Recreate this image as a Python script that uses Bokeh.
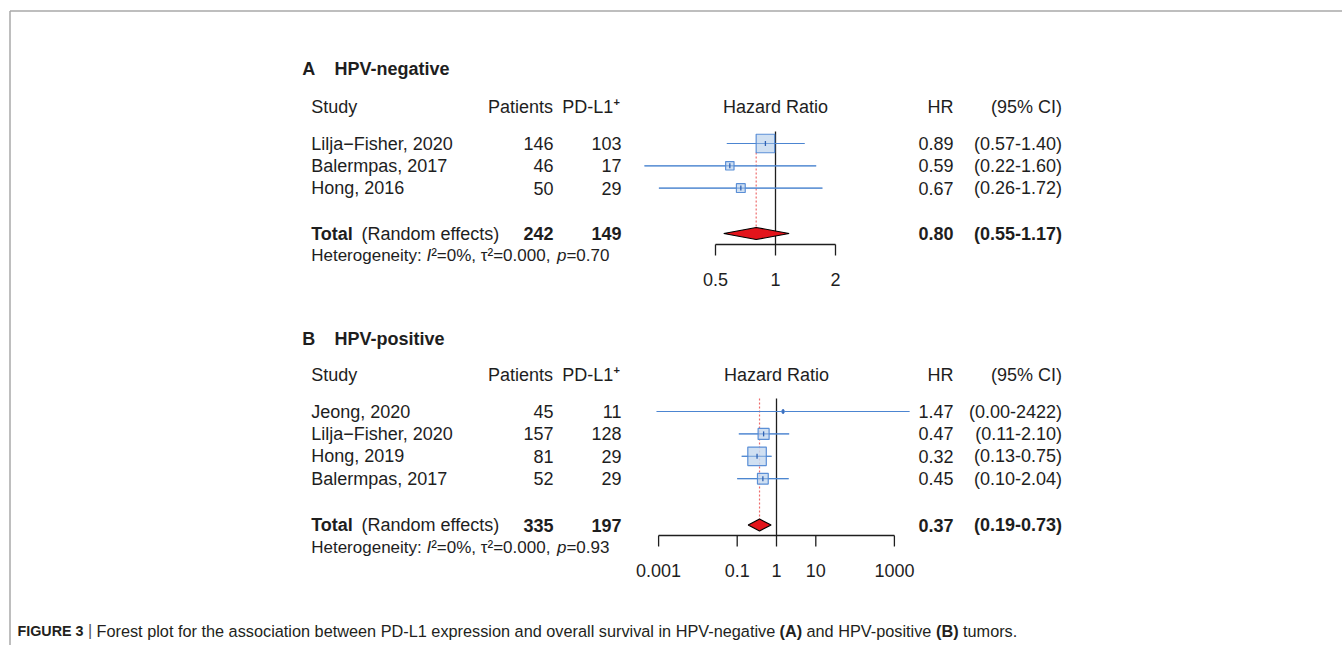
import math
from bokeh.plotting import figure
from bokeh.models import Range1d, LogScale
from bokeh.core.properties import value
from bokeh.embed import file_html
from bokeh.resources import INLINE

# ---------------- data ----------------
A_studies = ["Lilja\u2212Fisher, 2020", "Balermpas, 2017", "Hong, 2016"]
A_patients = [146, 46, 50]
A_pdl1 = [103, 17, 29]
A_hr = [0.89, 0.59, 0.67]
A_lo = [0.57, 0.22, 0.26]
A_hi = [1.40, 1.60, 1.72]
A_total = [242, 149]
A_total_hr = [0.80, 0.55, 1.17]
A_het = ["0%", "0.000", "0.70"]
A_ticks = [0.5, 1, 2]
A_tick_labels = ["0.5", "1", "2"]

B_studies = ["Jeong, 2020", "Lilja\u2212Fisher, 2020", "Hong, 2019", "Balermpas, 2017"]
B_patients = [45, 157, 81, 52]
B_pdl1 = [11, 128, 29, 29]
B_hr = [1.47, 0.47, 0.32, 0.45]
B_lo = [0.00089, 0.11, 0.13, 0.10]
B_hi = [2422, 2.10, 0.75, 2.04]
B_total = [335, 197]
B_total_hr = [0.37, 0.19, 0.73]
B_het = ["0%", "0.000", "0.93"]
B_ticks = [0.001, 0.1, 1, 10, 1000]
B_tick_labels = ["0.001", "0.1", "1", "10", "1000"]

# ---------------- styles ----------------
FONT = "Liberation Sans"
INK = "#1e1e1e"
CI_COL = "#4d86d1"
BOX_FILL = "#c8daf0"
BOX_LINE = "#5b8fd6"
DIAMOND = "#e3141b"
DOT_COL = "#ee6b6b"

W, H = 1342, 645
p = figure(width=W, height=H, x_range=Range1d(0, W), y_range=Range1d(H, 0),
           output_backend="svg", toolbar_location=None, min_border=0,
           x_axis_location=None, y_axis_location=None)
p.grid.visible = False
p.outline_line_color = None
p.background_fill_color = "white"
p.border_fill_color = "white"

# log scales for the two forest panels (pixel anchor of HR=1 and px per decade)
A_one, A_ppd = 775.0, 60.0 / math.log10(2)
B_one, B_ppd = 776.0, 39.3
def lrange(one, ppd):
    return Range1d(10 ** ((0 - one) / ppd), 10 ** ((W - one) / ppd))
p.extra_x_ranges = {"A": lrange(A_one, A_ppd), "B": lrange(B_one, B_ppd)}
p.extra_x_scales = {"A": LogScale(), "B": LogScale()}


def txt(x, y, s, size=18, style="normal", align="left", xr="default", color=INK):
    xs = x if isinstance(x, list) else [x]
    ys = y if isinstance(y, list) else [y] * len(xs)
    ss = s if isinstance(s, list) else [s] * len(xs)
    p.text(x=xs, y=ys, text=ss, text_font=value(FONT), text_font_size=f"{size}px",
           text_font_style=style, text_align=align, text_baseline="middle",
           text_color=color, x_range_name=xr)


def fmt(v):
    return f"{v:.0f}" if v >= 100 else f"{v:.2f}"


def panel(rng, letter, title, studies, patients, pdl1, hr, lo, hi, total, total_hr, het,
          ticks, tick_labels, y_title, y_head, y_row0, step, y_total, y_het,
          y_vtop, y_dot_top, y_axis, y_ticklab):
    n = len(studies)
    rows = [y_row0 + i * step for i in range(n)]
    # titles / headers
    txt(301.7, y_title, letter, style="bold")
    txt(334, y_title, title, style="bold")
    txt(310.7, y_head, "Study")
    txt(552.5, y_head, "Patients", align="right")
    txt(561.7, y_head, "PD-L1")
    txt(613, y_head - 5.5, "+", size=11, style="bold")
    txt(1, y_head, "Hazard Ratio", align="center", xr=rng)
    txt(953, y_head, "HR", align="right")
    txt(1061.5, y_head, "(95% CI)", align="right")
    # study rows
    txt([310.7] * n, rows, studies)
    txt([553] * n, rows, [str(v) for v in patients], align="right")
    txt([621] * n, rows, [str(v) for v in pdl1], align="right")
    txt([953] * n, rows, [f"{v:.2f}" for v in hr], align="right")
    txt([1061.5] * n, rows, [f"({fmt(a)}-{fmt(b)})" for a, b in zip(lo, hi)], align="right")
    # total row
    txt(310.7, y_total, "Total", style="bold")
    txt(361, y_total, "(Random effects)")
    txt(553, y_total, str(total[0]), style="bold", align="right")
    txt(621, y_total, str(total[1]), style="bold", align="right")
    txt(953, y_total, f"{total_hr[0]:.2f}", style="bold", align="right")
    txt(1061.5, y_total, f"({total_hr[1]:.2f}-{total_hr[2]:.2f})", style="bold", align="right")
    # heterogeneity
    txt(310.7, y_het, "Heterogeneity: ", size=17)
    txt(426, y_het, "I", size=17, style="italic")
    txt(430.7, y_het, f"\u00b2={het[0]}, \u03c4\u00b2={het[1]}, ", size=17)
    txt(556.4, y_het, "p", size=17, style="italic")
    txt(565.9, y_het, f"={het[2]}", size=17)

    # forest graphics
    p.segment(x0=[1], x1=[1], y0=[y_vtop], y1=[y_axis], line_color=INK, line_width=1.3, x_range_name=rng)
    p.segment(x0=[total_hr[0]], x1=[total_hr[0]], y0=[y_dot_top], y1=[y_total - 6],
              line_color=DOT_COL, line_dash="2 2", line_width=1.2, x_range_name=rng)
    p.segment(x0=lo, x1=hi, y0=rows, y1=rows, line_color=CI_COL, line_width=1.2, x_range_name=rng)
    se = [(math.log(b) - math.log(a)) / 3.92 for a, b in zip(lo, hi)]
    w = [1 / s ** 2 for s in se]
    side = [18.5 * math.sqrt(x / max(w)) for x in w]
    p.rect(x=hr, y=rows, width=side, height=side, width_units="screen", height_units="screen",
           fill_color=BOX_FILL, fill_alpha=0.85, line_color=BOX_LINE, line_width=1.2, x_range_name=rng)
    p.segment(x0=lo, x1=hi, y0=rows, y1=rows, line_color=CI_COL, line_width=1.0, line_alpha=0.6,
              x_range_name=rng)
    p.segment(x0=hr, x1=hr, y0=[r - 2.5 for r in rows], y1=[r + 2.5 for r in rows],
              line_color="#2f62b4", line_width=1.3, x_range_name=rng)
    est, l, h = total_hr
    p.patch(x=[l, est, h, est], y=[y_total, y_total - 6, y_total, y_total + 6],
            fill_color=DIAMOND, line_color="black", line_width=1.1, x_range_name=rng)
    # axis
    p.segment(x0=[min(ticks)], x1=[max(ticks)], y0=[y_axis], y1=[y_axis], line_color=INK,
              line_width=1.3, x_range_name=rng)
    p.segment(x0=ticks, x1=ticks, y0=[y_axis] * len(ticks), y1=[y_axis + 11] * len(ticks),
              line_color=INK, line_width=1.3, x_range_name=rng)
    txt(ticks, [y_ticklab] * len(ticks), tick_labels, align="center", xr=rng)


panel("A", "A", "HPV-negative", A_studies, A_patients, A_pdl1, A_hr, A_lo, A_hi, A_total,
      A_total_hr, A_het, A_ticks, A_tick_labels,
      y_title=68, y_head=106.7, y_row0=143, step=22.3, y_total=233, y_het=255,
      y_vtop=131, y_dot_top=152, y_axis=244, y_ticklab=279)
panel("B", "B", "HPV-positive", B_studies, B_patients, B_pdl1, B_hr, B_lo, B_hi, B_total,
      B_total_hr, B_het, B_ticks, B_tick_labels,
      y_title=338.3, y_head=374.5, y_row0=411, step=22.4, y_total=524.5, y_het=546.7,
      y_vtop=398, y_dot_top=398, y_axis=535, y_ticklab=570)

# frame decoration
p.segment(x0=[9.5, 9.5], x1=[W, 9.5], y0=[10.5, 10.5], y1=[10.5, H],
          line_color="#a8a8a8", line_width=1.5)

# caption
cy = 630
txt(17, cy, "FIGURE 3", size=14.3, style="bold", color="#231f20")
txt(89.5, cy, "|", size=16, color="#555555", align="center")
txt(96, cy, "Forest plot for the association between PD-L1 expression and overall survival in HPV-negative",
    size=16.3, color="#231f20")
txt(779, cy, "(A)", size=16.3, style="bold", color="#231f20")
txt(806, cy, "and HPV-positive", size=16.3, color="#231f20")
txt(935.5, cy, "(B)", size=16.3, style="bold", color="#231f20")
txt(962.5, cy, "tumors.", size=16.3, color="#231f20")

open("out.html", "w").write(file_html(p, INLINE))
